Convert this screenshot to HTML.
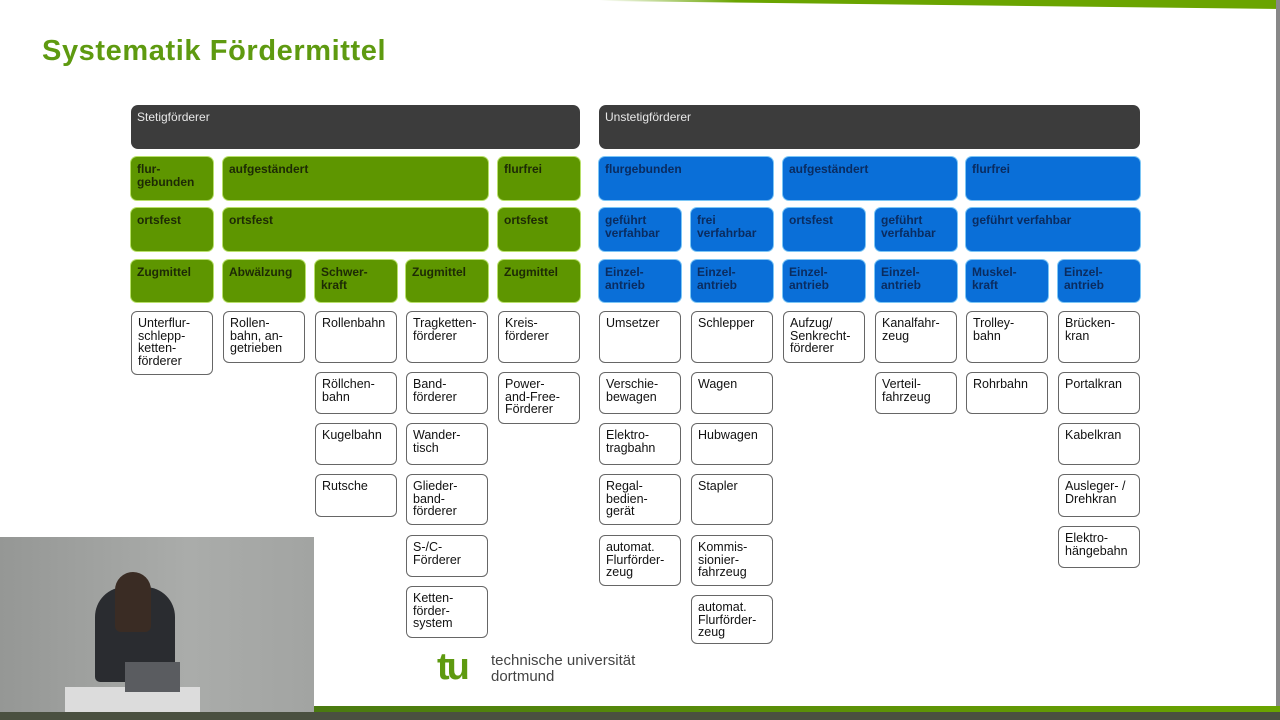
<!DOCTYPE html>
<html><head><meta charset="utf-8"><style>
body{margin:0;width:1280px;height:720px;overflow:hidden;background:#fff;position:relative;font-family:"Liberation Sans",sans-serif}
.b{position:absolute;box-sizing:border-box;border-radius:6px;font-size:12px;line-height:12.5px;padding:6px 6px 4px;}
.d{background:#3c3c3c;color:#e8e8e8;font-weight:normal;border-radius:7px;padding-top:6px}
.g{background:#5e9600;color:#1d2a05;font-weight:bold;box-shadow:0 0 0 1px #b8e06a}
.u{background:#0a6fd8;color:#0a2c60;font-weight:bold;box-shadow:0 0 0 1px #7cc6f5}
.w{background:#fff;border:1.5px solid #666;color:#111;font-size:12.5px;line-height:12.5px;padding-top:5px}
</style></head><body>
<div style="position:absolute;left:600px;top:0;width:680px;height:9px;background:linear-gradient(to right,#fff,#6aa400 20%,#6aa400);clip-path:polygon(0 0,100% 0,100% 100%,0 10%)"></div>
<div style="position:absolute;left:1276px;top:0;width:4px;height:712px;background:#888"></div>
<div style="position:absolute;left:42px;top:35px;font-size:29px;font-weight:bold;color:#5e9a10;letter-spacing:0.6px">Systematik Fördermittel</div>

<div class="b d" style="left:131px;top:105px;width:449px;height:44px">Stetigförderer</div>
<div class="b d" style="left:599px;top:105px;width:541px;height:44px">Unstetigförderer</div>

<div class="b g" style="left:131px;top:157px;width:82px;height:43px">flur-<br>gebunden</div>
<div class="b g" style="left:223px;top:157px;width:265px;height:43px">aufgeständert</div>
<div class="b g" style="left:498px;top:157px;width:82px;height:43px">flurfrei</div>
<div class="b g" style="left:131px;top:208px;width:82px;height:43px">ortsfest</div>
<div class="b g" style="left:223px;top:208px;width:265px;height:43px">ortsfest</div>
<div class="b g" style="left:498px;top:208px;width:82px;height:43px">ortsfest</div>
<div class="b g" style="left:131px;top:260px;width:82px;height:42px">Zugmittel</div>
<div class="b g" style="left:223px;top:260px;width:82px;height:42px">Abwälzung</div>
<div class="b g" style="left:315px;top:260px;width:82px;height:42px">Schwer-<br>kraft</div>
<div class="b g" style="left:406px;top:260px;width:82px;height:42px">Zugmittel</div>
<div class="b g" style="left:498px;top:260px;width:82px;height:42px">Zugmittel</div>

<div class="b u" style="left:599px;top:157px;width:174px;height:43px">flurgebunden</div>
<div class="b u" style="left:783px;top:157px;width:174px;height:43px">aufgeständert</div>
<div class="b u" style="left:966px;top:157px;width:174px;height:43px">flurfrei</div>
<div class="b u" style="left:599px;top:208px;width:82px;height:43px">geführt<br>verfahbar</div>
<div class="b u" style="left:691px;top:208px;width:82px;height:43px">frei<br>verfahrbar</div>
<div class="b u" style="left:783px;top:208px;width:82px;height:43px">ortsfest</div>
<div class="b u" style="left:875px;top:208px;width:82px;height:43px">geführt<br>verfahbar</div>
<div class="b u" style="left:966px;top:208px;width:174px;height:43px">geführt verfahbar</div>
<div class="b u" style="left:599px;top:260px;width:82px;height:42px">Einzel-<br>antrieb</div>
<div class="b u" style="left:691px;top:260px;width:82px;height:42px">Einzel-<br>antrieb</div>
<div class="b u" style="left:783px;top:260px;width:82px;height:42px">Einzel-<br>antrieb</div>
<div class="b u" style="left:875px;top:260px;width:82px;height:42px">Einzel-<br>antrieb</div>
<div class="b u" style="left:966px;top:260px;width:82px;height:42px">Muskel-<br>kraft</div>
<div class="b u" style="left:1058px;top:260px;width:82px;height:42px">Einzel-<br>antrieb</div>

<div class="b w" style="left:131px;top:311px;width:82px;height:64px">Unterflur-<br>schlepp-<br>ketten-<br>förderer</div>
<div class="b w" style="left:223px;top:311px;width:82px;height:52px">Rollen-<br>bahn, an-<br>getrieben</div>
<div class="b w" style="left:315px;top:311px;width:82px;height:52px">Rollenbahn</div>
<div class="b w" style="left:315px;top:372px;width:82px;height:42px">Röllchen-<br>bahn</div>
<div class="b w" style="left:315px;top:423px;width:82px;height:42px">Kugelbahn</div>
<div class="b w" style="left:315px;top:474px;width:82px;height:43px">Rutsche</div>
<div class="b w" style="left:406px;top:311px;width:82px;height:52px">Tragketten-<br>förderer</div>
<div class="b w" style="left:406px;top:372px;width:82px;height:42px">Band-<br>förderer</div>
<div class="b w" style="left:406px;top:423px;width:82px;height:42px">Wander-<br>tisch</div>
<div class="b w" style="left:406px;top:474px;width:82px;height:51px">Glieder-<br>band-<br>förderer</div>
<div class="b w" style="left:406px;top:535px;width:82px;height:42px">S-/C-<br>Förderer</div>
<div class="b w" style="left:406px;top:586px;width:82px;height:52px">Ketten-<br>förder-<br>system</div>
<div class="b w" style="left:498px;top:311px;width:82px;height:52px">Kreis-<br>förderer</div>
<div class="b w" style="left:498px;top:372px;width:82px;height:52px">Power-<br>and-Free-<br>Förderer</div>

<div class="b w" style="left:599px;top:311px;width:82px;height:52px">Umsetzer</div>
<div class="b w" style="left:599px;top:372px;width:82px;height:42px">Verschie-<br>bewagen</div>
<div class="b w" style="left:599px;top:423px;width:82px;height:42px">Elektro-<br>tragbahn</div>
<div class="b w" style="left:599px;top:474px;width:82px;height:51px">Regal-<br>bedien-<br>gerät</div>
<div class="b w" style="left:599px;top:535px;width:82px;height:51px">automat.<br>Flurförder-<br>zeug</div>
<div class="b w" style="left:691px;top:311px;width:82px;height:52px">Schlepper</div>
<div class="b w" style="left:691px;top:372px;width:82px;height:42px">Wagen</div>
<div class="b w" style="left:691px;top:423px;width:82px;height:42px">Hubwagen</div>
<div class="b w" style="left:691px;top:474px;width:82px;height:51px">Stapler</div>
<div class="b w" style="left:691px;top:535px;width:82px;height:51px">Kommis-<br>sionier-<br>fahrzeug</div>
<div class="b w" style="left:691px;top:595px;width:82px;height:49px">automat.<br>Flurförder-<br>zeug</div>
<div class="b w" style="left:783px;top:311px;width:82px;height:52px">Aufzug/<br>Senkrecht-<br>förderer</div>
<div class="b w" style="left:875px;top:311px;width:82px;height:52px">Kanalfahr-<br>zeug</div>
<div class="b w" style="left:875px;top:372px;width:82px;height:42px">Verteil-<br>fahrzeug</div>
<div class="b w" style="left:966px;top:311px;width:82px;height:52px">Trolley-<br>bahn</div>
<div class="b w" style="left:966px;top:372px;width:82px;height:42px">Rohrbahn</div>
<div class="b w" style="left:1058px;top:311px;width:82px;height:52px">Brücken-<br>kran</div>
<div class="b w" style="left:1058px;top:372px;width:82px;height:42px">Portalkran</div>
<div class="b w" style="left:1058px;top:423px;width:82px;height:42px">Kabelkran</div>
<div class="b w" style="left:1058px;top:474px;width:82px;height:43px">Ausleger- /<br>Drehkran</div>
<div class="b w" style="left:1058px;top:526px;width:82px;height:42px">Elektro-<br>hängebahn</div>

<div style="position:absolute;left:437px;top:650px;font-size:38px;font-weight:bold;color:#5e9a10;letter-spacing:-3px;line-height:34px">tu</div>
<div style="position:absolute;left:491px;top:653px;font-size:15px;line-height:16px;color:#444">technische universität<br>dortmund</div>

<div style="position:absolute;left:314px;top:706px;width:966px;height:6px;background:linear-gradient(to right,#4a7a10,#6aa400)"></div>
<div style="position:absolute;left:0;top:712px;width:1280px;height:8px;background:#4a5040"></div>

<div style="position:absolute;left:0;top:537px;width:314px;height:175px;background:#a0a2a0">
 <div style="position:absolute;left:0;top:0;width:314px;height:175px;background:linear-gradient(to right,#959795,#aaacaa 60%,#a2a4a2)"></div>
 <div style="position:absolute;left:65px;top:150px;width:135px;height:25px;background:#dcdcdc"></div>
 <div style="position:absolute;left:95px;top:50px;width:80px;height:95px;background:#2a2c30;border-radius:30px 30px 5px 5px"></div>
 <div style="position:absolute;left:115px;top:35px;width:36px;height:60px;background:#3a2c24;border-radius:18px 18px 6px 6px"></div>
 <div style="position:absolute;left:125px;top:125px;width:55px;height:30px;background:#5a5c60"></div>
</div>
</body></html>
